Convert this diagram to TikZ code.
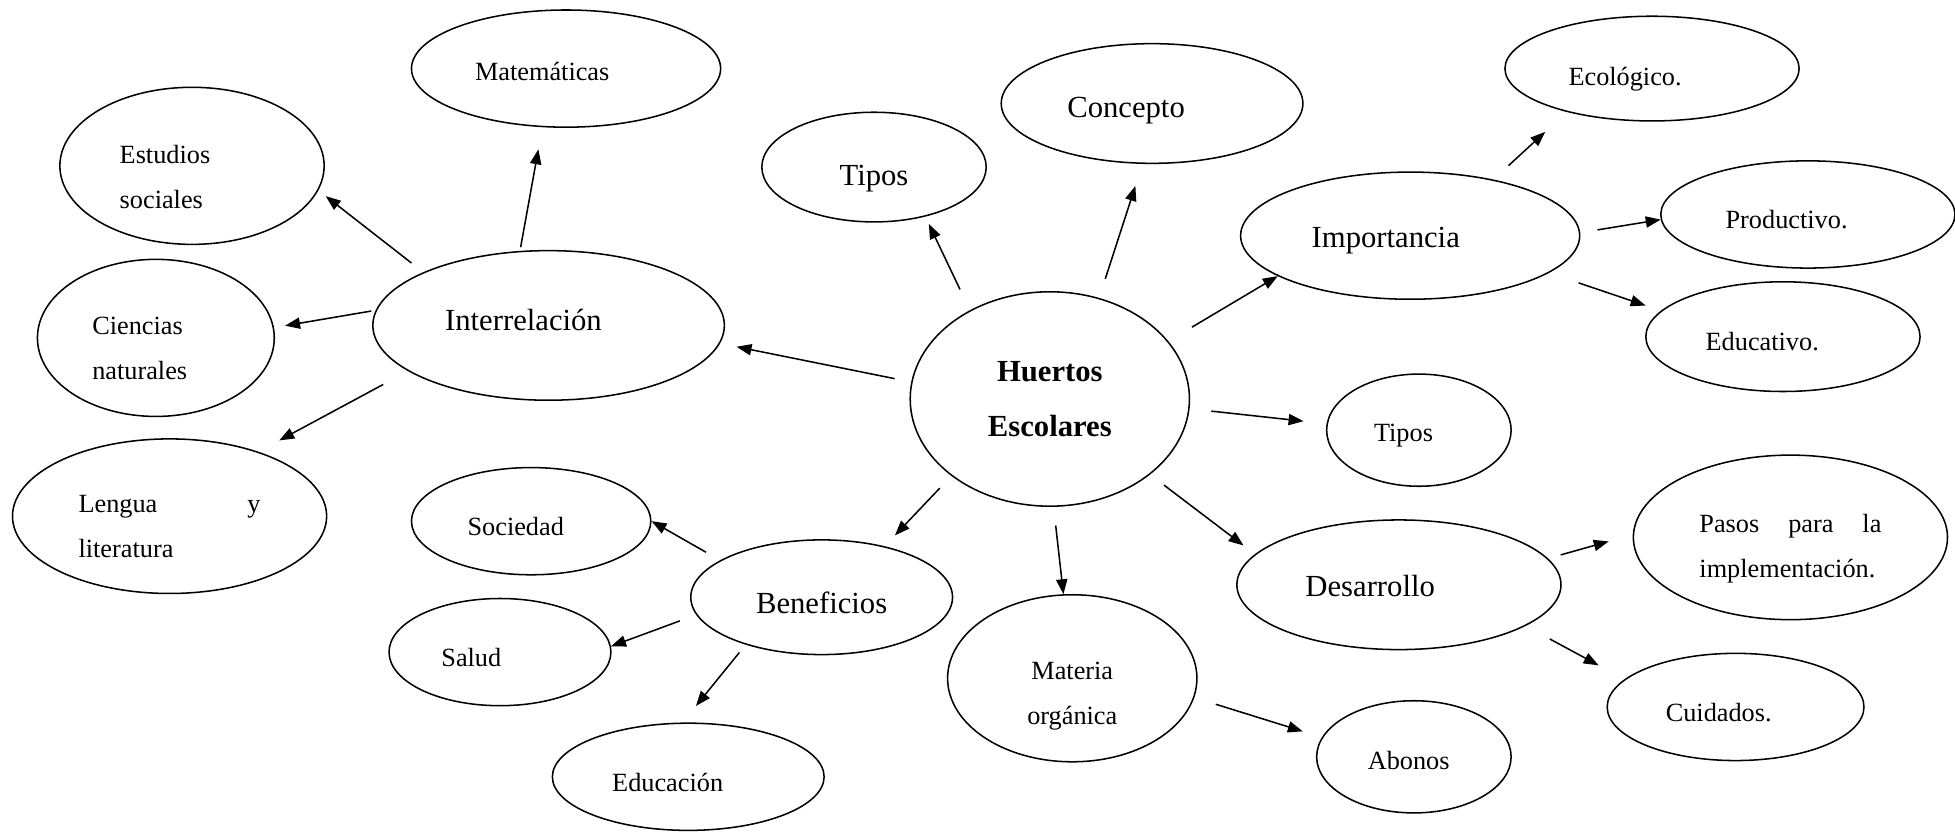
\documentclass[tikz,border=0pt]{standalone}
\usepackage{fontspec}
\setmainfont{Liberation Serif}
\usetikzlibrary{shapes,arrows.meta}

\begin{document}
\begin{tikzpicture}[x=0.02cm,y=-0.02cm,inner sep=0mm,
  bub/.style={draw,ellipse,line width=0.7pt,font=\fontsize{12}{20.5}\selectfont},
  big/.style={font=\fontsize{14}{25}\selectfont},
  lft/.style={align=left,text width=#1},
  jst/.style={align=justify,text width=#1},
  dn/.style={text height=#1,text depth=0pt},
  up/.style={text height=0pt,text depth=#1},
  arr/.style={-{Triangle[length=0.24cm,width=0.18cm]},line width=0.7pt}]

\useasboundingbox (0,0) rectangle (1568,667);

% centre
\node[bub,align=center,minimum width=4.48cm,minimum height=3.44cm,
  font=\fontsize{14}{25}\selectfont\bfseries] (huertos) at (842,320) {Huertos\\Escolares};

% first ring
\node[bub,big,lft=3.32cm,dn=4.6pt,minimum width=5.64cm,minimum height=2.4cm] (inter) at (440,261) {Interrelación};
\node[bub,big,dn=16.8pt,minimum width=3.6cm,minimum height=1.76cm] (tipos1) at (701,134) {Tipos};
\node[bub,big,lft=2.72cm,dn=13.2pt,minimum width=4.84cm,minimum height=1.92cm] (concep) at (924,83) {Concepto};
\node[bub,big,lft=3.16cm,dn=10.4pt,minimum width=5.44cm,minimum height=2.04cm] (import) at (1131,189) {Importancia};
\node[bub,lft=1.44cm,dn=10.6pt,minimum width=2.96cm,minimum height=1.8cm] (tipos2) at (1138,345) {Tipos};
\node[bub,big,lft=3.0cm,dn=10.4pt,minimum width=5.2cm,minimum height=2.08cm] (desarr) at (1122,469) {Desarrollo};
\node[bub,align=center,text width=2cm,dn=1.4pt,minimum width=4.0cm,minimum height=2.68cm] (materia) at (860,544) {Materia\\orgánica};
\node[bub,big,dn=14.8pt,minimum width=4.2cm,minimum height=1.84cm] (benef) at (659,479) {Beneficios};

% Interrelacion
\node[bub,lft=2.92cm,dn=10.6pt,minimum width=4.96cm,minimum height=1.88cm] (mate) at (454,55) {Matemáticas};
\node[bub,lft=2.32cm,up=2.4pt,minimum width=4.24cm,minimum height=2.52cm] (estud) at (154,133) {Estudios\\sociales};
\node[bub,lft=2.04cm,up=2.8pt,minimum width=3.8cm,minimum height=2.52cm] (cienc) at (125,271) {Ciencias\\naturales};
\node[bub,jst=2.92cm,up=3pt,minimum width=5.04cm,minimum height=2.48cm] (lengua) at (136,414) {Lengua y\linebreak literatura};

% Importancia
\node[bub,lft=2.68cm,dn=15pt,minimum width=4.72cm,minimum height=1.68cm] (ecolog) at (1325,55) {Ecológico.};
\node[bub,lft=2.64cm,dn=12.4pt,minimum width=4.72cm,minimum height=1.72cm] (product) at (1450,172) {Productivo.};
\node[bub,lft=2.48cm,dn=12.4pt,minimum width=4.4cm,minimum height=1.76cm] (educat) at (1430,270) {Educativo.};

% Desarrollo
\node[bub,jst=2.92cm,up=4.2pt,minimum width=5.04cm,minimum height=2.64cm] (pasos) at (1436,431) {Pasos para la\linebreak implementación.};
\node[bub,lft=2.24cm,dn=13pt,minimum width=4.12cm,minimum height=1.72cm] (cuidad) at (1392,567) {Cuidados.};

% Materia organica
\node[bub,lft=1.48cm,dn=12pt,minimum width=3.12cm,minimum height=1.8cm] (abonos) at (1134,607) {Abonos};

% Beneficios
\node[bub,lft=2.04cm,dn=13.4pt,minimum width=3.84cm,minimum height=1.72cm] (socied) at (426,418) {Sociedad};
\node[bub,lft=1.88cm,dn=13pt,minimum width=3.56cm,minimum height=1.72cm] (salud) at (401,523) {Salud};
\node[bub,lft=2.44cm,dn=13.6pt,minimum width=4.36cm,minimum height=1.72cm] (educac) at (552,623) {Educación};

% arrows from the centre
\draw[arr,shorten <=.27cm,shorten >=.27cm] (huertos.173) -- (inter.-6);
\draw[arr,shorten <=.37cm,shorten >=.13cm] (huertos.132) -- (tipos1.-44);
\draw[arr,shorten <=.32cm,shorten >=.37cm] (huertos.64) -- (concep.-99);
\draw[arr,shorten <=.44cm] (huertos.26) -- (import.197);
\draw[arr,shorten <=.35cm,shorten >=.37cm] (huertos.-4) -- (tipos2.176);
\draw[arr,shorten <=.28cm,shorten >=.23cm] (huertos.-37) -- (desarr.168);
\draw[arr,shorten <=.3cm] (huertos.-88) -- (materia.96);
\draw[arr,shorten <=.27cm,shorten >=.24cm] (huertos.218) -- (benef.39);

% arrows of the second ring
\draw[arr,shorten <=.06cm,shorten >=.36cm] (inter.111) -- (mate.248);
\draw[arr,shorten <=.24cm,shorten >=.15cm] (inter.157) -- (estud.-11);
\draw[arr,shorten <=.07cm,shorten >=.18cm] (inter.175) -- (cienc.5);
\draw[arr,shorten <=.45cm,shorten >=.38cm] (inter.198) -- (lengua.36);

\draw[arr,shorten <=.33cm,shorten >=.47cm] (import.34) -- (ecolog.207);
\draw[arr,shorten <=.28cm] (import.1) -- (product.182);
\draw[arr,shorten <=.5cm,shorten >=.26cm] (import.-15) -- (educat.168);

\draw[arr,shorten <=.21cm,shorten >=.4cm] (desarr.10) -- (pasos.179);
\draw[arr,shorten <=.44cm,shorten >=.47cm] (desarr.-18) -- (cuidad.166);

\draw[arr,shorten <=.36cm,shorten >=.32cm] (materia.-9) -- (abonos.168);

\draw[arr,shorten <=.26cm] (benef.160) -- (socied.0);
\draw[arr,shorten <=.28cm] (benef.188) -- (salud.3);
\draw[arr,shorten <=.16cm,shorten >=.34cm] (benef.212) -- (educac.96);

\end{tikzpicture}
\end{document}
